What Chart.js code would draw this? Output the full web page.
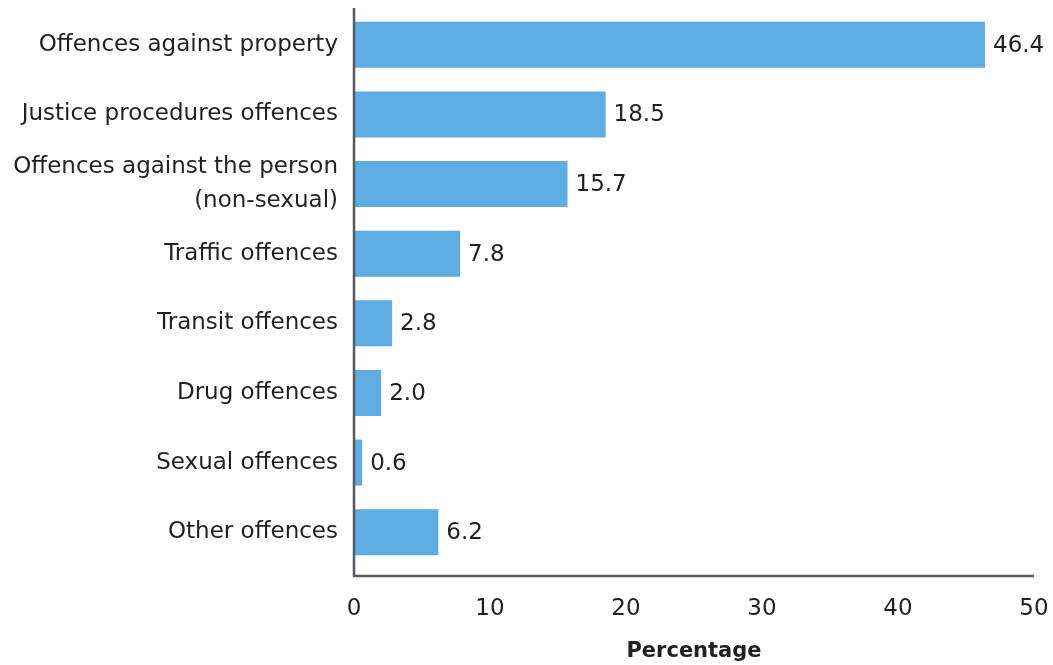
<!DOCTYPE html>
<html>
<head>
<meta charset="utf-8">
<script src="https://cdn.jsdelivr.net/npm/chart.js@4"></script>
<style>
  html, body { margin: 0; padding: 0; background: #fff; }
  #wrap { width: 1053px; height: 665px; }
</style>
</head>
<body>
<div id="wrap"><canvas id="offenceChart" width="1053" height="665"></canvas></div>
<script>
"use strict";

const offenceLabels = [
    'Offences against property',
    'Justice procedures offences',
    ['Offences against the person', '(non-sexual)'],
    'Traffic offences',
    'Transit offences',
    'Drug offences',
    'Sexual offences',
    'Other offences'
];
const offencePct = [46.4, 18.5, 15.7, 7.8, 2.8, 2.0, 0.6, 6.2];
const xTicks = [0, 10, 20, 30, 40, 50];

const FONT = '"DejaVu Sans", sans-serif';
const TXT = '#231f20';
const AXIS = '#555b62';

// value text at the end of each bar
const barValues = {
    id: 'barValues',
    afterDatasetsDraw(chart) {
        const { ctx } = chart;
        const meta = chart.getDatasetMeta(0);
        ctx.save();
        ctx.font = `23px ${FONT}`;
        ctx.fillStyle = TXT;
        ctx.textBaseline = 'middle';
        ctx.textAlign = 'left';
        meta.data.forEach((bar, i) => {
            ctx.fillText(offencePct[i].toFixed(1), bar.x + 8, bar.y + 1);
        });
        ctx.restore();
    }
};

// axis lines sit a little below the last category band
const axisLines = {
    id: 'axisLines',
    afterDraw(chart) {
        const { ctx, chartArea } = chart;
        const yBottom = chartArea.bottom + 9;
        ctx.save();
        ctx.strokeStyle = AXIS;
        ctx.lineWidth = 2.5;
        ctx.beginPath();
        ctx.moveTo(chartArea.left, chartArea.top - 2);
        ctx.lineTo(chartArea.left, yBottom);
        ctx.lineTo(chartArea.right, yBottom);
        ctx.stroke();
        ctx.restore();
    }
};

const ctx = document.getElementById('offenceChart').getContext('2d');
new Chart(ctx, {
    type: 'bar',
    data: {
        labels: offenceLabels,
        datasets: [{
            data: offencePct,
            backgroundColor: '#5dade2',
            borderWidth: 0,
            categoryPercentage: 0.66,
            barPercentage: 1.0
        }]
    },
    options: {
        indexAxis: 'y',
        responsive: false,
        animation: false,
        layout: { padding: { top: 10, right: 19, left: 0, bottom: 0 } },
        plugins: { legend: { display: false }, tooltip: { enabled: false } },
        scales: {
            x: {
                min: 0, max: 50,
                afterBuildTicks: (scale) => { scale.ticks = xTicks.map(v => ({ value: v })); },
                grid: { display: false, drawTicks: false },
                border: { display: false },
                ticks: { color: TXT, font: { family: FONT, size: 23 }, padding: 28, maxRotation: 0 },
                title: {
                    display: true, text: 'Percentage', color: TXT,
                    font: { family: FONT, size: 21, weight: 'bold' },
                    padding: { top: 0, bottom: 1 }
                },
                afterFit: (scale) => {
                    scale.height = 98;
                    scale.paddingLeft = 0;
                    scale.paddingRight = 0;
                }
            },
            y: {
                grid: { display: false, drawTicks: false },
                border: { display: false },
                ticks: {
                    color: TXT, autoSkip: false, padding: 16,
                    font: { family: FONT, size: 23, lineHeight: 1.45 }
                },
                afterFit: (scale) => {
                    scale.width = 354;
                    scale.paddingTop = 0;
                    scale.paddingBottom = 0;
                }
            }
        }
    },
    plugins: [barValues, axisLines]
});
</script>
</body>
</html>
